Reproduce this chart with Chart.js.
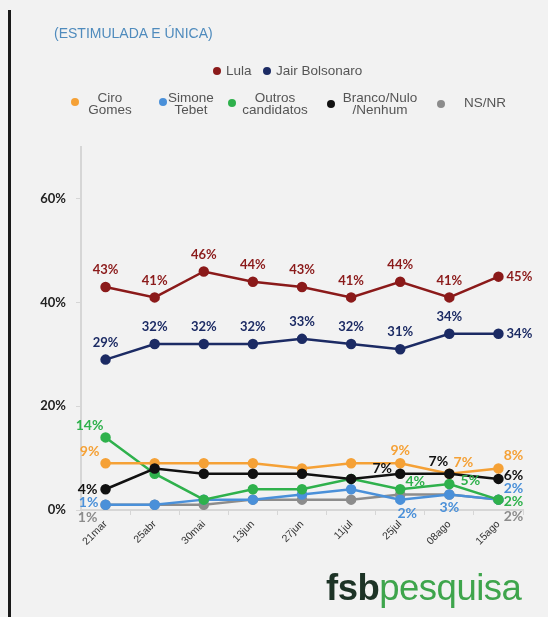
<!DOCTYPE html>
<html><head><meta charset="utf-8">
<script src="https://cdn.jsdelivr.net/npm/chart.js@4/dist/chart.umd.min.js"></script>
<style>
html,body{margin:0;padding:0;background:#f2f2f2;}
#wrap{position:relative;width:548px;height:617px;overflow:hidden;background:#f2f2f2;}
#border{position:absolute;left:8px;top:10px;width:3px;height:607px;background:#1a1a1a;}
canvas{position:absolute;left:0;top:0;}
.t{position:absolute;font-family:"Liberation Sans",Arial,sans-serif;color:#555;font-size:13.5px;white-space:nowrap;}
.c{text-align:center;line-height:12px;transform:translateX(-50%);}
.d{position:absolute;width:8px;height:8px;border-radius:50%;margin:-4px 0 0 -4px;}
#title{left:54px;top:25px;color:#4f8bbd;font-size:14px;}
#logo{position:absolute;left:326px;top:567px;font-family:"Liberation Sans",Arial,sans-serif;font-size:36.5px;letter-spacing:-0.5px;}
</style></head>
<body>
<div id="wrap">
<canvas id="c" width="548" height="617"></canvas>
<div id="border"></div>
<div class="t" id="title">(ESTIMULADA E ÚNICA)</div>
<div class="d" style="left:217px;top:71px;background:#8b1a1a"></div>
<div class="t" style="left:226px;top:63px">Lula</div>
<div class="d" style="left:267px;top:71px;background:#1c2b64"></div>
<div class="t" style="left:276px;top:63px">Jair Bolsonaro</div>

<div class="d" style="left:75px;top:102px;background:#f5a136"></div>
<div class="t c" style="left:110px;top:92px">Ciro<br>Gomes</div>
<div class="d" style="left:163px;top:102px;background:#4a90d9"></div>
<div class="t c" style="left:191px;top:92px">Simone<br>Tebet</div>
<div class="d" style="left:232px;top:103px;background:#2fb14c"></div>
<div class="t c" style="left:275px;top:92px">Outros<br>candidatos</div>
<div class="d" style="left:331px;top:104px;background:#111"></div>
<div class="t c" style="left:380px;top:92px">Branco/Nulo<br>/Nenhum</div>
<div class="d" style="left:441px;top:104px;background:#8c8c8c"></div>
<div class="t c" style="left:485px;top:97px">NS/NR</div>

<div id="logo"><b style="color:#1d3326">fsb</b><span style="color:#3ea54c">pesquisa</span></div>
</div>
<script>
const categories = ["21mar","25abr","30mai","13jun","27jun","11jul","25jul","08ago","15ago"];
const lula      = [43,41,46,44,43,41,44,41,45];
const bolsonaro = [29,32,32,32,33,32,31,34,34];
const ciro      = [9,9,9,9,8,9,9,7,8];
const simone    = [1,1,2,2,3,4,2,3,2];
const outros    = [14,7,2,4,4,6,4,5,2];
const branco    = [4,8,7,7,7,6,7,7,6];
const nsnr      = [1,1,1,2,2,2,3,3,2];
const yTicks    = [0,20,40,60];

// label placements: index -> [dx, dy]
const above = [0,-17];
const placeLula = categories.map((_,i)=> i===8 ? [21,0] : above);
const placeBolso = categories.map((_,i)=> i===8 ? [21,0] : above);
const placeCiro = {0:[-16,-12],6:[0,-13],7:[14,-11],8:[15,-13]};
const placeSimone = {0:[-17,-2],6:[7,14],7:[0,13],8:[15,-11]};
const placeOutros = {0:[-16,-12],6:[15,-8],7:[21,-4],8:[15,2]};
const placeBranco = {0:[-18,0],6:[-18,-5],7:[-11,-12],8:[15,-3]};
const placeNs = {0:[-18,13],8:[15,17]};

function ds(label, data, color, place, fontSize){
  return {label, data, borderColor:color, backgroundColor:color, pointBackgroundColor:color,
    pointBorderColor:color, pointRadius:4, pointHoverRadius:4, borderWidth:2.5, tension:0,
    place, fontSize};
}
const datasets = [
  ds("Lula", lula, "#8b1a1a", placeLula, 13),
  ds("Jair Bolsonaro", bolsonaro, "#1c2b64", placeBolso, 13),
  ds("Branco/Nulo/Nenhum", branco, "#111111", placeBranco, 14),
  ds("Ciro Gomes", ciro, "#f5a136", placeCiro, 14),
  ds("Outros candidatos", outros, "#2fb14c", placeOutros, 14),
  ds("Simone Tebet", simone, "#4a90d9", placeSimone, 14),
  ds("NS/NR", nsnr, "#8c8c8c", placeNs, 14),
];

const labelPlugin = {
  id:'lbl',
  afterDatasetsDraw(chart){
    const ctx = chart.ctx;
    ctx.save();
    ctx.textAlign='center'; ctx.textBaseline='middle';
    chart.data.datasets.forEach((d,di)=>{
      const meta = chart.getDatasetMeta(di);
      ctx.font = 'bold '+d.fontSize+'px Lato, "Open Sans", sans-serif';
      ctx.fillStyle = d.borderColor;
      d.data.forEach((v,i)=>{
        const p = d.place[i];
        if(!p) return;
        const pt = meta.data[i];
        ctx.fillText(v+'%', pt.x+p[0], pt.y+p[1]);
      });
    });
    ctx.restore();
  }
};

new Chart(document.getElementById('c'), {
  type:'line',
  data:{labels:categories, datasets},
  options:{
    responsive:false, animation:false,
    layout:{padding:{top:147,right:25,left:0,bottom:0}},
    plugins:{legend:{display:false},title:{display:false},tooltip:{enabled:false}},
    scales:{
      x:{
        offset:true,
        grid:{drawOnChartArea:false, drawTicks:true, tickLength:5, color:'#d6d6d6', offset:true},
        border:{color:'#d6d6d6', width:2},
        ticks:{maxRotation:45, minRotation:45, color:'#333', padding:3,
          font:{family:'"Liberation Sans", Arial, sans-serif', size:10.5}},
        afterFit(s){ s.height = 107; }
      },
      y:{
        min:0, max:70,
        afterBuildTicks(s){ s.ticks = yTicks.map(v=>({value:v})); },
        grid:{drawOnChartArea:false, drawTicks:true, tickLength:5, color:'#d6d6d6'},
        border:{color:'#d6d6d6', width:2},
        ticks:{color:'#222', padding:10, callback:v=>v+'%',
          font:{family:'Lato, "Open Sans", sans-serif', size:13, weight:'bold'}},
        afterFit(s){ s.width = 81; }
      }
    }
  },
  plugins:[labelPlugin]
});
</script>
</body></html>
